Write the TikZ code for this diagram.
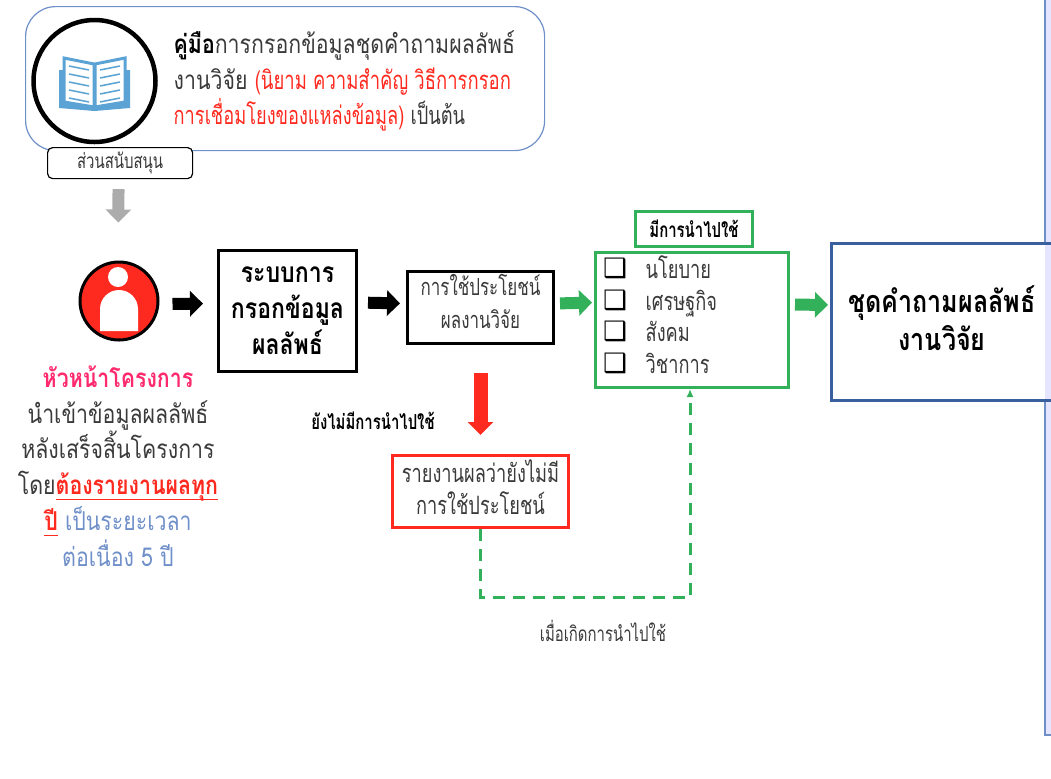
\documentclass[tikz,border=0pt]{standalone}
\usepackage{fontspec}
\setmainfont[Script=Thai,FakeStretch=0.82]{Loma}
\newfontfamily\narrowfont[Script=Thai,FakeStretch=0.72]{Loma}
\newfontfamily\symfont{DejaVu Sans}
\usetikzlibrary{arrows.meta}
\definecolor{framegreen}{HTML}{33B05A}
\definecolor{frameblue}{HTML}{3A5F9F}
\definecolor{softblue}{HTML}{6F8FC9}
\definecolor{alertred}{HTML}{FF2A1F}
\definecolor{leaderpink}{HTML}{FF2A6D}
\definecolor{bookblue}{HTML}{5BA3D5}
\definecolor{inkgray}{HTML}{3A3A3A}
\tikzset{
	txt/.style={text=inkgray,inner sep=0pt,font=\fontsize{7.4}{10.2}\selectfont,align=center},
	txtsmall/.style={text=inkgray,inner sep=0pt,font=\narrowfont\fontsize{5.9}{7}\selectfont,align=center},
	txtnarrow/.style={text=inkgray,inner sep=0pt,font=\narrowfont\fontsize{7.2}{9}\selectfont,align=center},
	txtbold/.style={text=black,inner sep=0pt,font=\fontsize{8}{10.2}\selectfont\bfseries,align=center},
	tagbold/.style={text=black,inner sep=0pt,font=\narrowfont\fontsize{5.9}{7}\selectfont\bfseries,align=center},
	box/.style={draw=#1,line width=0.03cm,inner sep=0pt,anchor=north west},
	blockarrow/.style={#1,line width=0.12cm,-{Triangle[length=0.13cm,width=0.25cm]}},
	dashline/.style={framegreen,line width=0.03cm,dash pattern=on 0.12cm off 0.08cm},
	checkmark/.style={inner sep=0pt,font=\symfont\fontsize{7.6}{7.6}\selectfont},
}
\begin{document}
\begin{tikzpicture}
	\useasboundingbox (0,0) rectangle (10.51,7.78);

	% panel at the right side
	\fill[blue!10!white] (10.45,7.78) rectangle (10.51,0.43);
	\draw[softblue,line width=0.02cm] (10.45,7.78)--(10.45,5.35);
	\draw[softblue,line width=0.02cm] (10.51,0.43)--(10.45,0.43)--(10.45,3.78);

	% manual
	\node (manual) at (0.25,7.72)[box=softblue,line width=0.012cm,rounded corners=0.3cm,minimum width=5.19cm,minimum height=1.44cm]{};
	\node (bookring) at (0.945,6.97)[draw=black,line width=0.045cm,fill=white,circle,inner sep=0pt,minimum size=1.22cm]{};
	\fill[bookblue] (0.59,7.08)--(0.59,6.70)--(0.945,6.67)--(1.30,6.70)--(1.30,7.08)--cycle;
	\draw[bookblue,line width=0.03cm,fill=white] (0.64,7.20)--(0.94,7.14)--(0.94,6.71)--(0.64,6.76)--cycle;
	\draw[bookblue,line width=0.03cm,fill=white] (1.25,7.20)--(0.95,7.14)--(0.95,6.71)--(1.25,6.76)--cycle;
	\foreach \k in {0,0.08,0.16,0.24,0.32}{
		\draw[bookblue,line width=0.015cm] (0.69,7.12-\k)--(0.89,7.08-\k);
		\draw[bookblue,line width=0.015cm] (1.20,7.12-\k)--(1.00,7.08-\k);
	}
	\node (manualtext) at (1.73,6.97)[txt,anchor=west,align=left]{\textbf{\textcolor{black}{คู่มือ}}การกรอกข้อมูลชุดคำถามผลลัพธ์\\งานวิจัย {\narrowfont\fontsize{7.3}{10.2}\selectfont\textcolor{alertred}{(นิยาม ความสำคัญ วิธีการกรอก}}\\{\narrowfont\fontsize{7.2}{10.2}\selectfont\textcolor{alertred}{การเชื่อมโยงของแหล่งข้อมูล)} เป็นต้น}};
	\node (support) at (0.47,6.31)[box=black,line width=0.012cm,fill=white,rounded corners=0.05cm,minimum width=1.45cm,minimum height=0.31cm]{};
	\node (supporttext) at (support.center)[txtsmall]{ส่วนสนับสนุน};

	% project leader
	\node (leader) at (1.19,4.77)[draw=black,line width=0.03cm,fill=alertred,circle,inner sep=0pt,minimum size=0.78cm]{};
	\fill[white] (1.18,5.01) circle (0.10);
	\fill[white] (1.00,4.47)--(1.00,4.69) arc (180:0:0.19)--(1.38,4.47)--cycle;
	\node (leadertext) at (1.18,3.12)[txt]{\textbf{\textcolor{leaderpink}{หัวหน้าโครงการ}}\\นำเข้าข้อมูลผลลัพธ์\\หลังเสร็จสิ้นโครงการ\\โดย\textbf{\textcolor{alertred}{\underline{\smash{ต้องรายงานผลทุก}}}}\\\textbf{\textcolor{alertred}{\underline{\smash{ปี}}}} \textcolor{softblue}{เป็นระยะเวลา}\\\textcolor{softblue}{ต่อเนื่อง 5 ปี}};

	% main chain
	\node (system) at (2.17,5.29)[box=black,minimum width=1.38cm,minimum height=1.21cm,txtbold]{ระบบการ\\กรอกข้อมูล\\ผลลัพธ์};
	\node (usage) at (4.06,5.08)[box=black,minimum width=1.46cm,minimum height=0.72cm,txtnarrow,font=\narrowfont\fontsize{6.7}{9.2}\selectfont,text depth=0.125cm]{การใช้ประโยชน์\\ผลงานวิจัย};
	\node (listbox) at (5.94,5.27)[box=framegreen,minimum width=1.93cm,minimum height=1.35cm]{};
	\node (usedtag) at (6.34,5.68)[box=framegreen,minimum width=1.17cm,minimum height=0.35cm,tagbold]{มีการนำไปใช้};
	\node (result) at (9.42,4.60)[txtbold,font=\fontsize{8.7}{10.8}\selectfont\bfseries]{ชุดคำถามผลลัพธ์\\งานวิจัย};
	\draw[frameblue,line width=0.03cm] (10.51,5.35)--(8.31,5.35)--(8.31,3.78)--(10.51,3.78);
	\coordinate (resultwest) at (8.31,4.73);

	% list of uses
	\node (checka) at (6.15,5.10)[checkmark]{❑};
	\node (checkb) at (6.15,4.78)[checkmark]{❑};
	\node (checkc) at (6.15,4.47)[checkmark]{❑};
	\node (checkd) at (6.15,4.15)[checkmark]{❑};
	\node (itema) at (6.45,5.00)[txtnarrow,anchor=base west]{นโยบาย};
	\node (itemb) at (6.45,4.68)[txtnarrow,anchor=base west]{เศรษฐกิจ};
	\node (itemc) at (6.45,4.37)[txtnarrow,anchor=base west]{สังคม};
	\node (itemd) at (6.45,4.05)[txtnarrow,anchor=base west]{วิชาการ};

	% not used yet
	\node (report) at (3.91,3.24)[box=alertred,minimum width=1.76cm,minimum height=0.72cm,txtnarrow,text depth=0.09cm]{รายงานผลว่ายังไม่มี\\การใช้ประโยชน์};
	\node (unused) at (3.73,3.57)[tagbold]{ยังไม่มีการนำไปใช้};
	\node (whenused) at (6.03,1.47)[txtsmall]{เมื่อเกิดการนำไปใช้};
	\coordinate (bend) at (6.90,1.81);

	% arrows
	\draw[blockarrow=gray!65,shorten <=0.10cm,shorten >=0.38cm] ([xshift=-0.015cm]support.south)--([xshift=-0.01cm]leader.north);
	\draw[blockarrow=black,shorten <=0.13cm,shorten >=0.14cm] ([yshift=-0.03cm]leader.east)--([yshift=0.075cm]system.west);
	\draw[blockarrow=black,shorten <=0.10cm,shorten >=0.06cm] ([yshift=0.085cm]system.east)--([yshift=0.04cm]usage.west);
	\draw[blockarrow=framegreen,shorten <=0.05cm,shorten >=0.02cm] ([yshift=0.04cm]usage.east)--([yshift=0.175cm]listbox.west);
	\draw[blockarrow=framegreen,shorten <=0.05cm,shorten >=0.03cm] ([yshift=0.155cm]listbox.east)--(resultwest);
	\draw[blockarrow=alertred,line width=0.14cm,shorten <=0.28cm,shorten >=0.19cm] (usage.south)--(report.north);
	\draw[dashline,-{Latex[length=0.08cm,width=0.07cm]}] (report.south)|-(bend)--(bend|-listbox.south);
\end{tikzpicture}
\end{document}
